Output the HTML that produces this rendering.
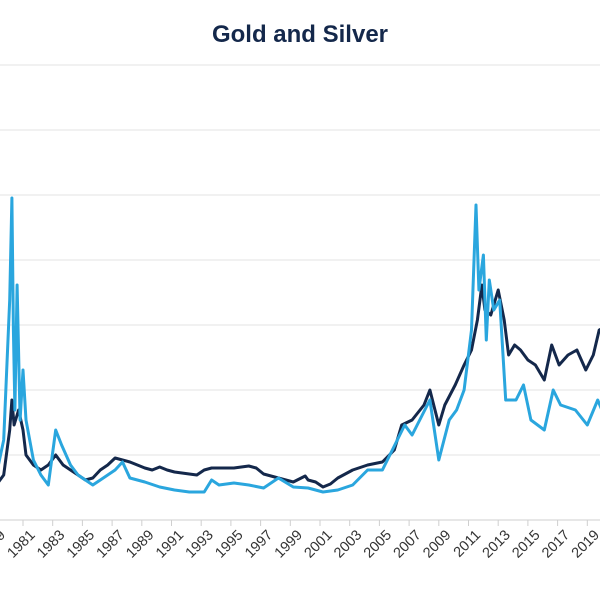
<!DOCTYPE html>
<html><head><meta charset="utf-8">
<style>
html,body{margin:0;padding:0;background:#fff;width:600px;height:600px;overflow:hidden}
svg{display:block;font-family:"Liberation Sans",sans-serif}
</style></head>
<body>
<svg id="chart" width="600" height="600" viewBox="0 0 600 600">
<text x="300" y="42" text-anchor="middle" font-size="24" font-weight="bold" fill="#14284b">Gold and Silver</text>
<g id="grid"></g>
<g id="xaxis"></g>
<g id="series"></g>
</svg>
<script>
const yearTicks = [1979,1981,1983,1985,1987,1989,1991,1993,1995,1997,1999,2001,2003,2005,2007,2009,2011,2013,2015,2017,2019,2021];
const gridValues = [0,65,130,195,260,325,390,455];
const goldYears = [1979.0,1979.5,1979.9,1980.05,1980.2,1980.5,1980.8,1981,1981.5,1982,1982.5,1983,1983.5,1984,1984.5,1985,1985.5,1986,1986.5,1987,1987.5,1988,1988.5,1989,1989.5,1990,1990.5,1991,1992,1992.5,1993,1993.5,1994,1995,1996,1996.5,1997,1997.5,1998,1999,1999.8,2000,2000.5,2001,2001.5,2002,2003,2004,2005,2005.8,2006.3,2007,2007.8,2008.2,2008.8,2009.2,2009.9,2010.5,2011,2011.4,2011.7,2011.9,2012.3,2012.8,2013.2,2013.5,2013.9,2014.3,2014.8,2015.3,2015.9,2016.4,2016.9,2017.5,2018.1,2018.7,2019.2,2019.6,2020.2,2020.5];
const goldValues = [35,45,90,120,95,110,90,65,55,50,55,65,55,50,45,40,42,50,55,62,60,58,55,52,50,53,50,48,46,45,50,52,52,52,54,52,46,44,42,38,44,40,38,33,36,42,50,55,58,70,95,100,115,130,95,115,135,155,170,200,235,210,205,230,200,165,175,170,160,155,140,175,155,165,170,150,165,190,195,205];
const silverYears = [1979.0,1979.5,1979.9,1980.05,1980.15,1980.25,1980.4,1980.6,1980.8,1981,1981.5,1982,1982.5,1983,1983.4,1984,1984.5,1985,1985.5,1986,1987,1987.5,1988,1989,1990,1991,1992,1993,1993.5,1994,1995,1996,1997,1998,1999,2000,2001,2002,2003,2004,2005,2006,2006.5,2007,2008.2,2008.8,2009.5,2010,2010.5,2011.0,2011.3,2011.5,2011.8,2012,2012.2,2012.5,2012.9,2013.3,2014,2014.5,2015,2015.9,2016.5,2017,2018,2018.8,2019.5,2020.2,2020.5];
const silverValues = [45,80,220,322,190,110,235,100,150,100,60,45,35,90,75,55,45,40,35,40,50,58,42,38,33,30,28,28,40,35,37,35,32,42,33,32,28,30,35,50,50,80,95,85,120,60,100,110,130,190,315,230,265,180,240,210,220,120,120,135,100,90,130,115,110,95,120,95,125];

const NS="http://www.w3.org/2000/svg";
const x = yr => 26 + (yr-1981)*14.85;
const y = v => 520 - v;
const grid=document.getElementById('grid'), xa=document.getElementById('xaxis'), ser=document.getElementById('series');
gridValues.forEach(v=>{
  const l=document.createElementNS(NS,'line');
  l.setAttribute('x1',0);l.setAttribute('x2',600);l.setAttribute('y1',y(v));l.setAttribute('y2',y(v));
  l.setAttribute('stroke',v===0?'#cfcfcf':'#e3e3e3');l.setAttribute('stroke-width',1);
  
  
  grid.appendChild(l);
});
yearTicks.forEach(yr=>{
  const t=document.createElementNS(NS,'line');
  t.setAttribute('x1',x(yr)-3);t.setAttribute('x2',x(yr)-3);t.setAttribute('y1',520);t.setAttribute('y2',526);
  t.setAttribute('stroke','#cfcfcf');
  
  
  xa.appendChild(t);
  const tx=document.createElementNS(NS,'text');
  const px=x(yr)+3, py=529;
  tx.setAttribute('x',px);tx.setAttribute('y',py);
  tx.setAttribute('text-anchor','end');tx.setAttribute('font-size','14.5');tx.setAttribute('fill','#333');
  tx.setAttribute('transform','rotate(-45 '+px+' '+py+')');
  tx.setAttribute('dominant-baseline','hanging');
  tx.textContent=yr;
  
  
  xa.appendChild(tx);
});
function drawLine(years, vals, color, name){
  const p=document.createElementNS(NS,'path');
  p.setAttribute('d',years.map((yr,i)=>(i?'L':'M')+x(yr).toFixed(1)+','+y(vals[i]).toFixed(1)).join(''));
  p.setAttribute('fill','none');p.setAttribute('stroke',color);p.setAttribute('stroke-width',3);
  p.setAttribute('stroke-linejoin','round');
  
  
  ser.appendChild(p);
}
drawLine(goldYears, goldValues, '#14284b', 'gold-line');
drawLine(silverYears, silverValues, '#2aa6de', 'silver-line');
</script>
</body></html>
